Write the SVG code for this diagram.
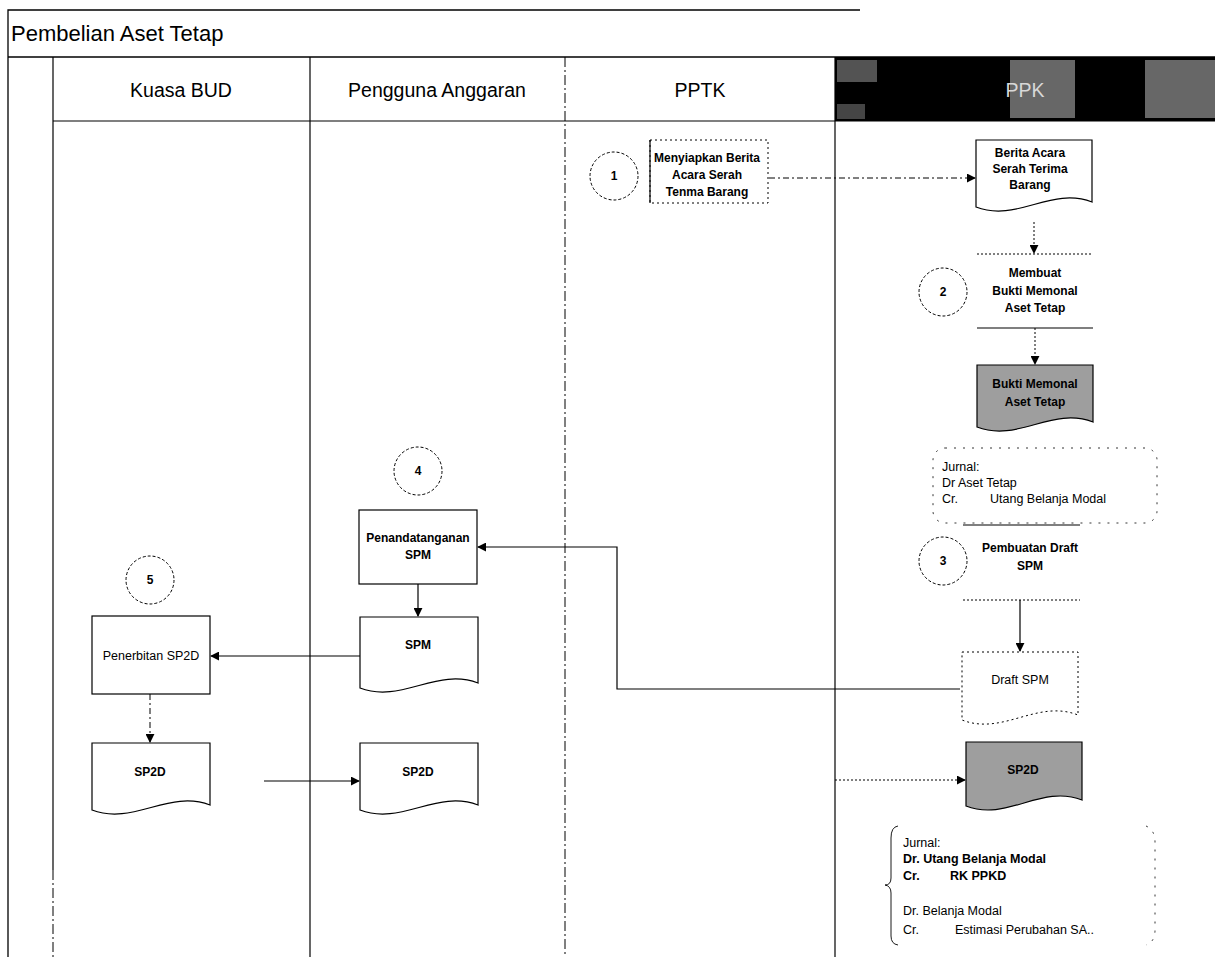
<svg xmlns="http://www.w3.org/2000/svg" width="1215" height="957" viewBox="0 0 1215 957">
<defs>
<style>
 text{font-family:"Liberation Sans",Arial,sans-serif;fill:#000}
 .title{font-size:22px}
 .hdr{font-size:19.5px;text-anchor:middle}
 .lbl{font-size:12px;font-weight:bold;text-anchor:middle}
 .plain{font-size:12.5px;text-anchor:middle}
 .note{font-size:12.5px}
 .noteb{font-size:12.5px;font-weight:bold}
 .num{font-size:12px;font-weight:bold;text-anchor:middle}
 .frame{fill:none;stroke:#000;stroke-width:1.3}
 .lane{fill:none;stroke:#000;stroke-width:1.2}
 .lane-d{fill:none;stroke:#000;stroke-width:1;stroke-dasharray:10 3 2 3}
 .shape{fill:#fff;stroke:#000;stroke-width:1.2}
 .shape-d{fill:#fff;stroke:#000;stroke-width:1;stroke-dasharray:2 3}
 .shade{fill:#9e9e9e;stroke:#000;stroke-width:1.2}
 .step{fill:#fff;stroke:#000;stroke-width:1;stroke-dasharray:3 2}
 .edge{fill:none;stroke:#000;stroke-width:1.2}
 .wire{fill:none;stroke:#000;stroke-width:1.2}
 .wire-d{fill:none;stroke:#000;stroke-width:1;stroke-dasharray:6 3 2 3}
 .wire-dot{fill:none;stroke:#000;stroke-width:1;stroke-dasharray:2 2}
 .ann{fill:none;stroke:#000;stroke-width:0.8;stroke-dasharray:2 7}
 .stip{fill:#8a8a8a}
</style>
<marker id="arr" viewBox="0 0 10 10" refX="9" refY="5" markerWidth="9" markerHeight="9" orient="auto" markerUnits="userSpaceOnUse">
 <path d="M0,0 L10,5 L0,10 Z" fill="#000"/>
</marker>
</defs>

<!-- pool frame and lanes -->
<g id="pool">
 <path class="frame" d="M8,957 V10 H860"/>
 <path class="frame" d="M8,57 H1215"/>
 <text class="title" x="11" y="41">Pembelian Aset Tetap</text>
 <rect x="835" y="57" width="380" height="64" fill="#000"/>
 <rect class="stip" x="837" y="60" width="40" height="22" opacity="0.6"/>
 <rect class="stip" x="837" y="104" width="28" height="15" opacity="0.5"/>
 <rect class="stip" x="1010" y="60" width="65" height="58" opacity="0.75"/>
 <rect class="stip" x="1145" y="60" width="70" height="58" opacity="0.75"/>
 <text class="hdr" x="1025" y="97" style="fill:#d8d8d8">PPK</text>
 <path class="lane" d="M53,57 V870"/>
 <path class="lane-d" d="M53,870 V957"/>
 <path class="lane" d="M53,121 H1215"/>
 <path class="lane" d="M310,57 V957"/>
 <path class="lane-d" d="M565,57 V957"/>
 <path class="lane" d="M835,57 V957"/>
 <text class="hdr" x="181" y="97">Kuasa BUD</text>
 <text class="hdr" x="437" y="97">Pengguna Anggaran</text>
 <text class="hdr" x="700" y="97">PPTK</text>
</g>

<!-- connectors -->
<g id="connectors">
 <path class="wire-d" d="M769,178 H975" marker-end="url(#arr)"/>
 <path class="wire-dot" d="M1034,222 V253" marker-end="url(#arr)"/>
 <path class="wire-dot" d="M1035,328 V364" marker-end="url(#arr)"/>
 <path class="wire" d="M1020,600 V651" marker-end="url(#arr)"/>
 <path class="wire" d="M960,689 H617 V547 H478" marker-end="url(#arr)"/>
 <path class="wire" d="M418,584 V616" marker-end="url(#arr)"/>
 <path class="wire" d="M360,656 H211" marker-end="url(#arr)"/>
 <path class="wire-d" d="M150,694 V742" marker-end="url(#arr)"/>
 <path class="wire" d="M264,781 H359" marker-end="url(#arr)"/>
 <path class="wire-dot" d="M835,780 H965" marker-end="url(#arr)"/>
</g>

<!-- PPTK -->
<g id="step1">
 <circle class="step" cx="614" cy="176" r="24"/>
 <text class="num" x="614" y="180">1</text>
</g>
<g id="siapkan-bast">
 <rect class="shape-d" x="650" y="140" width="118" height="63"/>
 <path class="edge" d="M650,140 V203"/>
 <text class="lbl" x="707" y="162">Menyiapkan Berita</text>
 <text class="lbl" x="707" y="179">Acara Serah</text>
 <text class="lbl" x="707" y="196">Tenma Barang</text>
</g>

<!-- PPK -->
<g id="bast">
 <path class="shape" d="M976,140 H1092 V202 C1051,186 1017,223 976,207 Z"/>
 <text class="lbl" x="1030" y="157">Berita Acara</text>
 <text class="lbl" x="1030" y="173">Serah Terima</text>
 <text class="lbl" x="1030" y="189">Barang</text>
</g>
<g id="step2">
 <circle class="step" cx="943" cy="292" r="24"/>
 <text class="num" x="943" y="296">2</text>
</g>
<g id="buat-memorial">
 <path class="wire-dot" d="M977,254 H1093"/>
 <path class="edge" d="M977,328 H1093"/>
 <text class="lbl" x="1035" y="277">Membuat</text>
 <text class="lbl" x="1035" y="295">Bukti Memonal</text>
 <text class="lbl" x="1035" y="312">Aset Tetap</text>
</g>
<g id="bukti-memorial">
 <path class="shade" d="M977,365 H1093 V422 C1052,406 1018,443 977,427 Z"/>
 <text class="lbl" x="1035" y="388">Bukti Memonal</text>
 <text class="lbl" x="1035" y="406">Aset Tetap</text>
</g>
<g id="jurnal1">
 <rect class="ann" x="933" y="448" width="224" height="75" rx="12"/>
 <text class="note" x="942" y="471">Jurnal:</text>
 <text class="note" x="942" y="487">Dr Aset Tetap</text>
 <text class="note" x="942" y="503">Cr.</text>
 <text class="note" x="990" y="503">Utang Belanja Modal</text>
</g>
<g id="step3">
 <circle class="step" cx="943" cy="561" r="24"/>
 <text class="num" x="943" y="565">3</text>
</g>
<g id="buat-draft">
 <path class="edge" d="M963,525 H1080"/>
 <path class="wire-dot" d="M963,600 H1080"/>
 <text class="lbl" x="1030" y="552">Pembuatan Draft</text>
 <text class="lbl" x="1030" y="570">SPM</text>
</g>
<g id="draft-spm">
 <path class="shape-d" d="M962,652 H1078 V715 C1037,699 1003,736 962,720 Z"/>
 <text class="plain" x="1020" y="684">Draft SPM</text>
</g>
<g id="sp2d-ppk">
 <path class="shade" d="M966,742 H1082 V800 C1041,784 1007,822 966,806 Z"/>
 <text class="lbl" x="1023" y="774">SP2D</text>
</g>
<g id="jurnal2">
 <path class="edge" style="stroke-width:0.9" d="M898,826 Q891,827 891,838 V878 Q891,885 885,885 Q891,886 891,893 V936 Q891,944 898,945"/>
 <path class="ann" d="M1146,826 Q1155,830 1155,842 V930 Q1155,942 1146,945"/>
 <text class="note" x="903" y="847">Jurnal:</text>
 <text class="noteb" x="903" y="863">Dr. Utang Belanja Modal</text>
 <text class="noteb" x="903" y="880">Cr.</text>
 <text class="noteb" x="950" y="880">RK PPKD</text>
 <text class="note" x="903" y="915">Dr. Belanja Modal</text>
 <text class="note" x="903" y="934">Cr.</text>
 <text class="note" x="955" y="934">Estimasi Perubahan SA..</text>
</g>

<!-- Pengguna Anggaran -->
<g id="step4">
 <circle class="step" cx="418" cy="471" r="24"/>
 <text class="num" x="418" y="475">4</text>
</g>
<g id="tandatangan-spm">
 <rect class="shape" x="359" y="510" width="118" height="74"/>
 <text class="lbl" x="418" y="542">Penandatanganan</text>
 <text class="lbl" x="418" y="559">SPM</text>
</g>
<g id="spm">
 <path class="shape" d="M360,617 H478 V683 C437,667 401,704 360,688 Z"/>
 <text class="lbl" x="418" y="649">SPM</text>
</g>
<g id="sp2d-pa">
 <path class="shape" d="M360,743 H478 V805 C437,789 401,826 360,810 Z"/>
 <text class="lbl" x="418" y="776">SP2D</text>
</g>

<!-- Kuasa BUD -->
<g id="step5">
 <circle class="step" cx="150" cy="580" r="24"/>
 <text class="num" x="150" y="584">5</text>
</g>
<g id="terbit-sp2d">
 <rect class="shape" x="92" y="616" width="118" height="78"/>
 <text class="plain" x="151" y="660">Penerbitan SP2D</text>
</g>
<g id="sp2d-bud">
 <path class="shape" d="M92,743 H210 V805 C169,789 133,826 92,810 Z"/>
 <text class="lbl" x="150" y="776">SP2D</text>
</g>
</svg>
